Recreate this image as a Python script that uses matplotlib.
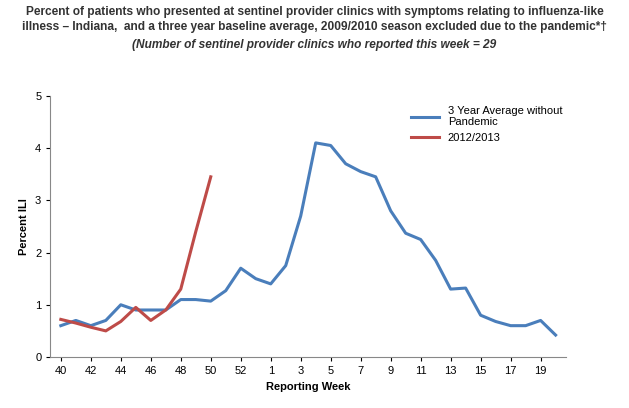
import matplotlib
matplotlib.use("Agg")
import matplotlib.pyplot as plt
plt.rcParams['font.family'] = ['Liberation Sans', 'DejaVu Sans']

weeks = [str(w) for w in range(40, 54)] + [str(w) for w in range(1, 21)]
avg = [0.6,0.7,0.6,0.7,1.0,0.9,0.9,0.9,1.1,1.1,1.07,1.27,1.7,1.5,1.4,1.75,2.7,4.1,4.05,3.7,3.55,3.45,2.8,2.37,2.25,1.85,1.3,1.32,0.8,0.68,0.6,0.6,0.7,0.42]
cur = [0.72,0.65,0.57,0.5,0.68,0.95,0.7,0.9,1.3,2.4,3.45]
ticklabels = ["40","42","44","46","48","50","52","1","3","5","7","9","11","13","15","17","19"]

fig = plt.figure(figsize=(6.29,4.08), dpi=100)
ax = fig.add_axes([0.08, 0.125, 0.82, 0.64])
x = list(range(len(weeks)))
ax.plot(x, avg, color="#4a7ebb", lw=2.2, label="3 Year Average without\nPandemic")
ax.plot(x[:len(cur)], cur, color="#be4b48", lw=2.2, label="2012/2013")
ax.set_xlim(-0.7, len(weeks)-0.3)
ax.set_ylim(0, 5)
tpos = [0,2,4,6,8,10,12,14,16,18,20,22,24,26,28,30,32]
ax.set_xticks(tpos, ticklabels, fontsize=8)
ax.set_yticks(range(6))
ax.tick_params(labelsize=8, length=3)
for s in ["top","right"]:
    ax.spines[s].set_visible(False)
for s in ["left","bottom"]:
    ax.spines[s].set_color("#888888")
ax.set_xlabel("Reporting Week", fontsize=8, fontweight="bold")
ax.set_ylabel("Percent ILI", fontsize=8, fontweight="bold")
ax.legend(loc="upper left", bbox_to_anchor=(0.68, 1.0), frameon=False, fontsize=8, handlelength=2.5)
c = "#333333"
fig.text(0.5, 0.985, "Percent of patients who presented at sentinel provider clinics with symptoms relating to influenza-like\nillness \u2013 Indiana,  and a three year baseline average, 2009/2010 season excluded due to the pandemic*\u2020",
         ha="center", va="top", fontsize=8.6, fontweight="bold", color=c, linespacing=1.3)
fig.text(0.5, 0.905, "(Number of sentinel provider clinics who reported this week = 29", ha="center", va="top",
         fontsize=8.6, fontweight="bold", style="italic", color=c)
fig.savefig("out.png", dpi=100)
